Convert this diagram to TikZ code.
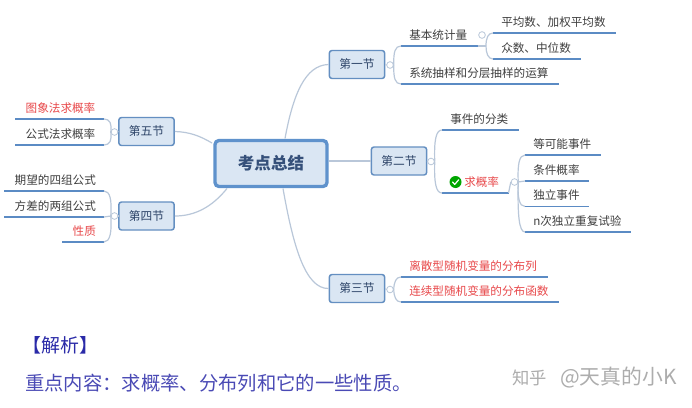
\documentclass[tikz,border=0pt]{standalone}
\usepackage{fontspec}
\setmainfont{Noto Sans CJK SC}
\definecolor{lineblue}{HTML}{5B8BC4}
\definecolor{boxblue}{HTML}{5F92CC}
\definecolor{fillblue}{HTML}{DAE6F3}
\definecolor{conn}{HTML}{B9C7D9}
\definecolor{txt}{HTML}{3F3F3F}
\definecolor{redtxt}{HTML}{E8484A}
\definecolor{titleblue}{HTML}{35507A}
\definecolor{navy}{HTML}{2A2AA8}
\tikzset{
  x=0.75pt,y=-0.75pt,
  secbox/.style={draw=boxblue!85!gray,line width=1.1pt,fill=fillblue,rounded corners=2pt,minimum width=41.5pt,minimum height=21pt,inner sep=0pt,font=\fontsize{8.8pt}{10pt}\selectfont,text=titleblue!85!black},
  rootbox/.style={draw=boxblue,line width=2.5pt,fill=fillblue,rounded corners=3pt,minimum width=84pt,minimum height=34.5pt,inner sep=0pt,font=\fontsize{12.4pt}{14pt}\selectfont\bfseries,text=titleblue},
  link/.style={draw=conn,line width=0.9pt},
  toggle/.style={circle,draw=conn,fill=white,line width=0.6pt,minimum size=5pt,inner sep=0pt},
  leafbase/.style={inner ysep=0pt,inner xsep=6pt,text height=8pt,text depth=5pt,font=\fontsize{8.7pt}{10pt}\selectfont},
  rule/.style={draw=lineblue,line width=1.1pt},
}
\newcommand{\leafR}[6]{%
  \node[leafbase,anchor=south west,text=#5,align=left,text width={(#3-#2)*0.75pt-12pt}] (#1) at (#2,#4) {#6};
  \draw[rule] (#1.south west) -- (#1.south east);}
\newcommand{\leafL}[6]{%
  \node[leafbase,anchor=south east,text=#5,align=right,inner xsep=7.5pt,text width={(#3-#2)*0.75pt-15pt}] (#1) at (#3,#4) {#6};
  \draw[rule] (#1.south west) -- (#1.south east);}
\begin{document}
\begin{tikzpicture}
\useasboundingbox (0,0) rectangle (692,407);
\fill[white] (0,0) rectangle (692,407);
% root and sections
\node[rootbox] (root) at (271,163.5) {考点总结};
\node[secbox] (s1) at (357,64.5) {第一节};
\node[secbox] (s2) at (399,161) {第二节};
\node[secbox] (s3) at (357,288.5) {第三节};
\node[secbox] (s4) at (146.5,216) {第四节};
\node[secbox] (s5) at (146.5,131.5) {第五节};
\coordinate (r1) at (285,138.5);
\coordinate (r3) at (283,188.5);
\coordinate (r4) at (227,188.5);
\coordinate (r5) at (212,143);
\coordinate (ja) at (486,46);
\draw[link] (r1) .. controls (293,95) and (305,65) .. (s1.west);
\draw[link] (root.east |- s2.west) -- (s2.west);
\draw[link] (r3) .. controls (293,245) and (305,289) .. (s3.west);
\draw[link] (r4) .. controls (212,207) and (195,216) .. (s4.east);
\draw[link] (r5) .. controls (200,136) and (190,132) .. (s5.east);
% leaves right
\leafR{a1}{401}{477}{46}{txt}{基本统计量}
\leafR{a2}{401}{558}{84}{txt}{系统抽样和分层抽样的运算}
\leafR{a3}{493}{615}{33}{txt}{平均数、加权平均数}
\leafR{a4}{493}{580}{59}{txt}{众数、中位数}
\leafR{b1}{442}{518}{130}{txt}{事件的分类}
\node[leafbase,anchor=south west,align=left,text width=37.5pt,text=redtxt] (b2) at (442,193) {\hspace*{10.5pt}求概率};
\draw[rule] (b2.south west) -- (b2.south east);
\node[circle,fill=green!65!black,minimum size=9pt,inner sep=0pt] (ok) at (455.5,182) {};
\draw[white,line width=0.9pt,line cap=round,line join=round] ([shift={(-3,0)}]ok.center) -- ([shift={(-0.8,2.4)}]ok.center) -- ([shift={(3.2,-2.2)}]ok.center);
\leafR{c1}{525}{600}{155}{txt}{等可能事件}
\leafR{c2}{525}{588}{181}{txt}{条件概率}
\leafR{c3}{525}{588}{206.5}{txt}{独立事件}
\leafR{c4}{525}{630}{232}{txt}{n次独立重复试验}
\leafR{d1}{401}{547}{277}{redtxt}{离散型随机变量的分布列}
\leafR{d2}{401}{558}{302}{redtxt}{连续型随机变量的分布函数}
% leaves left
\leafL{e1}{16}{104}{119}{redtxt}{图象法求概率}
\leafL{e2}{16}{104}{145}{txt}{公式法求概率}
\leafL{f1}{5}{104}{191}{txt}{期望的四组公式}
\leafL{f2}{5}{104}{217}{txt}{方差的两组公式}
\leafL{f3}{63}{104}{242}{redtxt}{性质}
% toggles
\node[toggle] (o1) at (390,65) {};
\node[toggle] (o2) at (431,161.5) {};
\node[toggle] (o3) at (390,289.5) {};
\node[toggle] (o4) at (114.5,216) {};
\node[toggle] (o5) at (114.5,132) {};
\node[toggle] (oa) at (482,35) {};
\node[toggle] (ob) at (514.5,182) {};
% brackets
\draw[link] (o1.east) .. controls (393.5,52) and (395,46) .. (a1.south west);
\draw[link] (o1.east) .. controls (393.5,78) and (395,84) .. (a2.south west);
\draw[link] (a1.south east) -- (ja);
\draw[link] (ja) .. controls (486,38) and (488,33) .. (a3.south west);
\draw[link] (ja) .. controls (486,53) and (488,59) .. (a4.south west);
\draw[link] (o2.east) .. controls (434,140) and (436,130) .. (b1.south west);
\draw[link] (o2.east) .. controls (434,183) and (436,193) .. (b2.south west);
\draw[link] (b2.south east) -- (ob.west);
\draw[link] (ob.east) .. controls (517.5,165) and (519,155) .. (c1.south west);
\draw[link] (ob.east) -- (c2.south west);
\draw[link] (ob.east) .. controls (517.5,197) and (519,206.5) .. (c3.south west);
\draw[link] (ob.east) .. controls (517.5,215) and (519,232) .. (c4.south west);
\draw[link] (o3.east) .. controls (394,282) and (396,277) .. (d1.south west);
\draw[link] (o3.east) .. controls (394,297) and (396,302) .. (d2.south west);
\draw[link] (o4.west) .. controls (112,200) and (110,191) .. (f1.south east);
\draw[link] (o4.west) -- (f2.south east);
\draw[link] (o4.west) .. controls (112,232) and (110,242) .. (f3.south east);
\draw[link] (o5.west) .. controls (112,124) and (110,119) .. (e1.south east);
\draw[link] (o5.west) .. controls (112,140) and (110,145) .. (e2.south east);
\draw[link] (o5.east) -- (s5.west);
\draw[link] (o4.east) -- (s4.west);
\draw[link] (o1.west) -- (s1.east);
\draw[link] (o2.west) -- (s2.east);
\draw[link] (o3.west) -- (s3.east);
% bottom text
\node[anchor=west,inner sep=0pt,text=navy,font=\fontsize{14.2pt}{16pt}\selectfont] (t1) at (22,345) {【解析】};
\node[anchor=west,inner sep=0pt,text=navy!85!white,font=\fontsize{14.5pt}{17pt}\selectfont] (t2) at (25,383) {重点内容：求概率、分布列和它的一些性质。};
\node[anchor=west,inner sep=0pt,text=black!32,font=\fontsize{13pt}{15pt}\selectfont] (wm) at (512,378) {知乎\hspace{10pt}{\fontsize{15.6pt}{16pt}\selectfont @天真的小K}};
\end{tikzpicture}
\end{document}
